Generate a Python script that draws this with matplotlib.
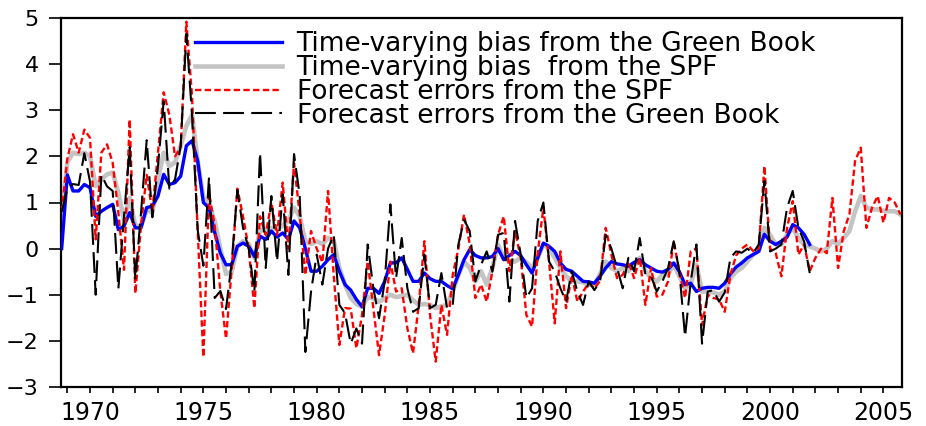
import numpy as np
import pandas as pd
import matplotlib
matplotlib.use("Agg")
import matplotlib.pyplot as plt

# quarterly sample, 1968Q4 - 2005Q4 (Green Book series stop in 2001Q4)
quarters = pd.period_range("1968Q4", "2005Q4", freq="Q")
t = np.asarray(quarters.year + (quarters.quarter - 1) / 4.0, dtype=float)

bias_gb = [
    0.00,
    1.60, 1.25, 1.25, 1.39,   1.32, 0.70, 0.81, 0.89,   0.96, 0.41, 0.49, 0.78,
    0.45, 0.45, 0.89, 0.92,   1.14, 1.61, 1.39, 1.43,   1.57, 2.23, 2.34, 1.90,
    1.00, 0.88, 0.35, -0.10,  -0.35, -0.35, 0.05, 0.12,  0.05, -0.17, 0.27, 0.20,
    0.38, 0.25, 0.34, 0.20,   0.60, 0.45, 0.00, -0.49,  -0.49, -0.38, -0.24, -0.13,
    -0.49, -0.78, -0.90, -1.10,  -1.26, -0.86, -0.86, -0.97,  -0.71, -0.31, -0.31, -0.20,
    -0.45, -0.71, -0.71, -0.53,  -0.65, -0.71, -0.71, -0.80,  -0.87, -0.57, -0.24, -0.02,
    -0.15, -0.20, -0.20, -0.17,  0.00, -0.24, -0.15, -0.06,  -0.15, -0.35, -0.53, -0.20,
    0.12, 0.05, -0.06, -0.31,  -0.45, -0.49, -0.60, -0.71,  -0.72, -0.75, -0.60, -0.42,
    -0.28, -0.33, -0.35, -0.38,  -0.30, -0.24, -0.35, -0.42,  -0.49, -0.51, -0.45, -0.31,
    -0.50, -0.78, -0.75, -0.93,  -0.86, -0.84, -0.84, -0.86,  -0.75, -0.55, -0.40, -0.31,
    -0.20, -0.13, -0.06, 0.31,  0.16, 0.09, 0.16, 0.25,  0.52, 0.45, 0.31, 0.09,
]

bias_spf = [
    0.70,
    1.87, 2.08, 2.05, 2.08,   2.00, 1.36, 1.50, 1.61,   1.65, 1.21, 0.63, 1.10,
    0.49, 0.49, 0.85, 0.78,   1.50, 2.08, 1.79, 1.87,   2.23, 2.66, 2.90, 1.90,
    1.10, 0.95, 0.60, 0.00,   -0.55, -0.50, 0.05, 0.16,  0.10, -0.20, 0.40, 0.40,
    0.45, 0.42, 0.50, 0.60,   0.89, 0.70, 0.16, 0.10,   0.16, 0.10, 0.23, 0.18,
    -0.42, -0.78, -1.07, -1.20,  -1.26, -1.05, -1.08, -1.15,  -1.08, -1.00, -1.05, -1.03,
    -1.00, -1.12, -1.22, -1.20,  -1.22, -1.29, -1.25, -1.22,  -0.93, -0.57, -0.28, -0.42,
    -0.71, -0.49, -0.78, -0.42,  0.09, -0.20, -0.28, -0.28,  -0.20, -0.30, -0.42, -0.20,
    0.09, 0.00, -0.20, -0.42,  -0.60, -0.71, -0.71, -0.73,  -0.78, -0.78, -0.55, -0.28,
    -0.42, -0.49, -0.42, -0.49,  -0.35, -0.20, -0.49, -0.64,  -0.71, -0.57, -0.55, -0.35,
    -0.60, -0.86, -0.75, -0.35,  -0.93, -0.93, -0.95, -1.00,  -0.93, -0.64, -0.50, -0.42,
    -0.28, -0.13, -0.05, 0.45,  0.30, 0.09, 0.09, 0.30,  0.45, 0.23, 0.09, 0.05,
    0.00, -0.06, 0.00, 0.16,  0.10, 0.23, 0.38, 0.81,  1.14, 0.89, 0.85, 0.85,
    0.82, 0.81, 0.81, 0.74,
]

err_spf = [
    0.80,
    1.95, 2.48, 2.08, 2.58,   2.40, 0.20, 2.08, 2.26,   1.86, 0.78, -0.46, 2.80,
    -0.97, 0.50, 1.60, 0.80,  2.10, 3.39, 2.90, 2.00,   2.20, 4.92, 3.30, 0.38,
    -2.35, 1.20, 0.50, -0.93,  -1.95, -0.45, 1.30, 0.70,  0.00, -1.29, 0.70, 0.30,
    1.00, 0.30, 1.43, 0.00,   1.85, 0.74, -0.57, 0.38,  0.00, -0.30, 1.25, -0.57,
    -2.09, -1.29, -1.30, -2.16,  -1.44, -0.28, -1.29, -2.31,  -1.44, -0.28, -0.93, -0.86,
    -1.73, -2.27, -1.22, 0.16,  -1.44, -2.45, -1.22, -1.87,  -0.57, 0.00, 0.74, 0.10,
    -1.07, -0.78, -1.15, -0.50,  0.30, 0.70, -0.49, 0.38,  -0.20, -1.44, -1.69, -0.10,
    0.89, -0.28, -1.62, -0.06,  -1.29, -0.57, -1.15, -0.93,  -0.75, -0.86, -0.70, 0.45,
    -0.13, -0.64, -0.57, -0.28,  -0.64, -0.20, -1.22, -0.42,  -1.04, -1.00, -0.71, 0.16,
    -0.50, -1.07, -0.06, 0.00,  -1.66, -1.00, -1.07, -1.10,  -1.37, -0.57, -0.15, 0.00,
    0.09, -0.05, 0.00, 1.79,  0.00, -0.10, -0.60, 0.45,  1.03, -0.13, 0.09, -0.49,
    -0.20, 0.00, -0.10, 1.10,  -0.42, 0.38, 0.74, 1.90,  2.19, 0.45, 0.89, 1.14,
    0.56, 1.10, 1.00, 0.74,
]

err_gb = [
    0.80,
    1.30, 1.40, 1.38, 2.07,   1.45, -1.00, 1.60, 1.35,  1.25, -0.87, 0.70, 2.20,
    -0.67, 0.78, 2.35, 0.68,  1.80, 3.20, 1.30, 1.50,   2.23, 4.66, 2.90, 0.40,
    -0.37, 1.55, -1.07, -0.92,  -1.31, -0.30, 1.27, 0.45,  0.00, -0.93, 2.08, -0.42,
    1.14, -0.28, 1.18, -0.57,  2.05, 1.15, -2.24, -0.93,  -0.13, -0.78, 0.00, 0.30,
    -1.22, -1.40, -2.06, -1.73,  -2.06, 0.09, -0.86, -1.51,  -0.71, 0.96, -0.64, 0.23,
    -0.86, -1.37, -1.29, -0.13,  -1.29, -1.22, -0.53, -1.29,  -1.22, 0.09, 0.63, 0.38,
    -0.71, -0.35, -0.06, -0.50,  0.30, 0.34, -1.15, 0.60,  -0.13, -1.07, -0.86, 0.60,
    1.00, -0.28, -0.50, -0.86,  -1.15, -0.49, -0.93, -1.22,  -0.71, -0.90, -0.71, 0.30,
    0.00, -0.42, -0.86, -0.20,  -0.49, 0.23, -0.57, -0.60,  -0.93, -0.71, -0.42, 0.16,
    -0.50, -1.91, -0.71, 0.09,  -2.06, -0.93, -0.90, -1.15,  -0.95, -0.20, -0.06, -0.09,
    0.00, -0.10, 0.09, 1.47,  -0.06, 0.00, 0.09, 0.89,  1.25, 0.45, 0.16, -0.53,
]

labels = [
    "Time-varying bias from the Green Book",
    "Time-varying bias  from the SPF",
    "Forecast errors from the SPF",
    "Forecast errors from the Green Book",
]

plt.rcParams["font.family"] = ["DejaVu Sans"]

fig = plt.figure(figsize=(9.26, 4.26), dpi=100)
ax = fig.add_axes([61 / 926, 1 - 387 / 426, (902 - 61) / 926, (387 - 18) / 426])

n_gb = len(bias_gb)
l2, = ax.plot(t, bias_spf, color="#c4c4c4", lw=3.3, zorder=2)
l1, = ax.plot(t[:n_gb], bias_gb, color="#0000ff", lw=2.4, zorder=3)
l3, = ax.plot(t, err_spf, color="#ff0000", lw=1.7, dashes=(2.7, 1.4), zorder=4)
l4, = ax.plot(t[:n_gb], err_gb, color="black", lw=1.5, dashes=(10, 3.5), zorder=5)

ax.set_xlim(1968.72, 2005.82)
ax.set_ylim(-3, 5)
ax.set_yticks(range(-3, 6))
ax.set_xticks(range(1970, 2006, 5))
ax.set_xticks(range(1969, 2006), minor=True)

ax.tick_params(axis="x", which="both", direction="out", length=4, width=1.2,
               labelsize=17, pad=6)
ax.tick_params(axis="y", direction="out", length=9, width=1.2, labelsize=16, pad=7)
for s in ax.spines.values():
    s.set_linewidth(1.6)

leg = fig.legend([l1, l2, l3, l4], labels, loc="upper left",
                 bbox_to_anchor=(195 / 926, 1 - 31 / 426),
                 bbox_transform=fig.transFigure, frameon=False,
                 fontsize=19, handlelength=3.3, handletextpad=0.55,
                 labelspacing=-0.08, borderpad=0, borderaxespad=0)

fig.savefig("out.png", dpi=100)
